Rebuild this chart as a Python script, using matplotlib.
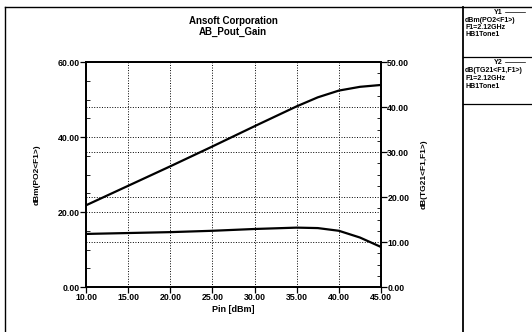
import matplotlib.pyplot as plt
from matplotlib.lines import Line2D
from matplotlib.ticker import MultipleLocator, FormatStrFormatter

plt.rcParams['font.family'] = ['Liberation Sans', 'DejaVu Sans']
plt.rcParams['font.weight'] = 'bold'

# data
pin = [10.0, 15.0, 20.0, 25.0, 30.0, 35.0, 37.5, 40.0, 42.5, 45.0]
pout = [21.8, 27.0, 32.2, 37.5, 42.9, 48.2, 50.6, 52.4, 53.4, 53.9]
gain = [11.8, 12.0, 12.2, 12.5, 12.9, 13.2, 13.1, 12.5, 11.0, 8.9]

x_ticks = [10, 15, 20, 25, 30, 35, 40, 45]
left_ticks = [0, 20, 40, 60]
right_ticks = [0, 10, 20, 30, 40, 50]

legend_y1 = ['dBm(PO2<F1>)', 'F1=2.12GHz', 'HB1Tone1']
legend_y2 = ['dB(TG21<F1,F1>)', 'F1=2.12GHz', 'HB1Tone1']

fig = plt.figure(figsize=(5.32, 3.32), dpi=100)
ax = fig.add_axes([0.1617, 0.1355, 0.5545, 0.6775])
ax2 = ax.twinx()

ax.plot(pin, pout, color='black', lw=1.6, zorder=5)
ax2.plot(pin, gain, color='black', lw=1.6, zorder=5)

ax.set_xlim(10, 45)
ax.set_ylim(0, 60)
ax2.set_ylim(0, 50)

ax.set_xticks(x_ticks)
ax.set_yticks(left_ticks)
ax2.set_yticks(right_ticks)
ax.yaxis.set_minor_locator(MultipleLocator(5))
ax2.yaxis.set_minor_locator(MultipleLocator(2.5))
for a in (ax, ax2):
    a.xaxis.set_major_formatter(FormatStrFormatter('%.2f'))
    a.yaxis.set_major_formatter(FormatStrFormatter('%.2f'))
    a.tick_params(axis='both', which='major', labelsize=6.3, length=4, width=0.9, pad=0.5)
    a.tick_params(axis='y', which='minor', direction='in', length=3, width=0.6)
    for s in a.spines.values():
        s.set_linewidth(1.3)

# dotted grid for both axes
for v in x_ticks[1:-1]:
    ax.axvline(v, color='black', ls=':', lw=0.7, zorder=1)
for v in left_ticks[1:-1]:
    ax.axhline(v, color='black', ls=':', lw=0.7, zorder=1)
for v in right_ticks[1:-1]:
    ax2.axhline(v, color='black', ls=':', lw=0.7, zorder=1)

ax.set_xlabel('Pin [dBm]', fontsize=6.5, fontweight='bold', labelpad=2)
ax.set_ylabel('dBm(PO2<F1>)', fontsize=6, fontweight='bold', labelpad=12)
ax2.set_ylabel('dB(TG21<F1,F1>)', fontsize=6, fontweight='bold', labelpad=8)

fig.text(0.438, 1 - 21 / 332, 'Ansoft Corporation', ha='center', va='center', fontsize=7, fontweight='bold')
fig.text(0.438, 1 - 31.5 / 332, 'AB_Pout_Gain', ha='center', va='center', fontsize=7, fontweight='bold')

# frame lines around the plot page and the legend panel
def px_line(x0, y0, x1, y1, lw=1.0):
    fig.add_artist(Line2D([x0 / 532, x1 / 532], [1 - y0 / 332, 1 - y1 / 332],
                          color='black', lw=lw))

px_line(5, 7, 532, 7, 1.0)
px_line(5, 7, 5, 332, 1.0)
px_line(463, 7, 463, 332, 1.3)
px_line(463, 57, 532, 57, 0.9)
px_line(463, 104, 532, 104, 0.9)

fig.text(498 / 532, 1 - 12 / 332, 'Y1', ha='center', va='center', fontsize=5)
px_line(505, 12, 525, 12, 0.5)
for i, s in enumerate(legend_y1):
    fig.text(465 / 532, 1 - (20 + 7.5 * i) / 332, s, ha='left', va='center', fontsize=5)

fig.text(498 / 532, 1 - 62 / 332, 'Y2', ha='center', va='center', fontsize=5)
px_line(505, 62, 525, 62, 0.5)
for i, s in enumerate(legend_y2):
    fig.text(465 / 532, 1 - (71 + 7.5 * i) / 332, s, ha='left', va='center', fontsize=5)

fig.savefig('out.png', dpi=100)
